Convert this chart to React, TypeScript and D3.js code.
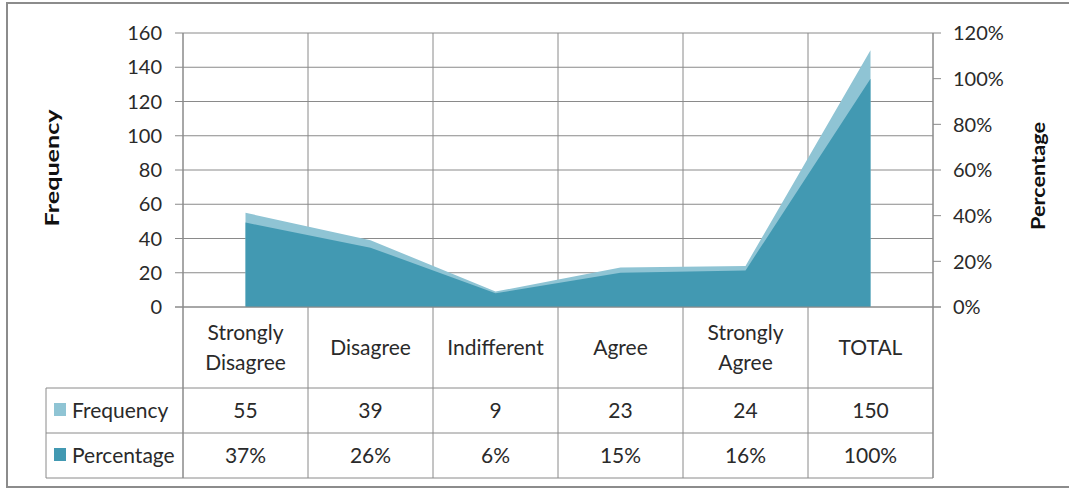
import React from "react";
import * as d3 from "d3";

const categories = ["Strongly Disagree", "Disagree", "Indifferent", "Agree", "Strongly Agree", "TOTAL"];
const categoryLines = [["Strongly", "Disagree"], ["Disagree"], ["Indifferent"], ["Agree"], ["Strongly", "Agree"], ["TOTAL"]];
const frequency = [55, 39, 9, 23, 24, 150];
const percentage = [37, 26, 6, 15, 16, 100];
const leftTicks = [0, 20, 40, 60, 80, 100, 120, 140, 160];
const rightTicks = [0, 20, 40, 60, 80, 100, 120];

const W = 1069, H = 489;
const plotL = 183, plotR = 933, plotT = 33, plotB = 307;
const row1B = 388, row2B = 433, row3B = 478, tableL = 46;
const FONT = "Lato, 'Open Sans', sans-serif";
const LIGHT = "#8fc4d4";
const DARK = "#4299b2";
const GRID = "#8a8a8a";
const TXT = "#2a2a2a";

export default function App() {
  const x = d3.scaleBand<string>().domain(categories).range([plotL, plotR]).padding(0);
  const cx = (c: string) => (x(c) as number) + x.bandwidth() / 2;
  const yL = d3.scaleLinear().domain([0, 160]).range([plotB, plotT]);
  const yR = d3.scaleLinear().domain([0, 120]).range([plotB, plotT]);

  const freqArea = d3.area<number>()
    .x((_, i) => cx(categories[i]))
    .y0(plotB)
    .y1((d) => yL(d));
  const pctArea = d3.area<number>()
    .x((_, i) => cx(categories[i]))
    .y0(plotB)
    .y1((d) => yR(d));

  const bounds = categories.map((c) => x(c) as number).concat([plotR]);

  return (
    <svg width={W} height={H} style={{ position: "absolute", left: 0, top: 0, background: "#fff" }} fontFamily={FONT}>
      <rect x={0} y={0} width={W} height={H} fill="#fff" />
      <rect x={7} y={3} width={W} height={484} fill="none" stroke="#8c8c8c" strokeWidth={2} />
      {leftTicks.map((t) => (
        <line key={"g" + t} x1={175} x2={plotR} y1={yL(t)} y2={yL(t)} stroke={GRID} strokeWidth={1} />
      ))}
      {bounds.map((b, i) => (
        <line key={"v" + i} x1={b} x2={b} y1={plotT} y2={row3B} stroke={GRID} strokeWidth={1} />
      ))}
      <path d={freqArea(frequency) || ""} fill={LIGHT} />
      <path d={pctArea(percentage) || ""} fill={DARK} />
      <line x1={plotL} x2={plotL} y1={plotT} y2={row3B} stroke={GRID} />
      <line x1={plotR} x2={plotR} y1={plotT} y2={row3B} stroke={GRID} />
      <line x1={175} x2={941} y1={plotB} y2={plotB} stroke={GRID} />
      {rightTicks.map((t) => (
        <line key={"r" + t} x1={plotR} x2={941} y1={yR(t)} y2={yR(t)} stroke={GRID} />
      ))}
      {leftTicks.map((t) => (
        <text key={"lt" + t} x={162} y={yL(t)} dy="0.36em" textAnchor="end" fontSize={20} fill={TXT}>{t}</text>
      ))}
      {rightTicks.map((t) => (
        <text key={"rt" + t} x={953} y={yR(t)} dy="0.36em" textAnchor="start" fontSize={20} fill={TXT}>{t + "%"}</text>
      ))}
      <text transform={`translate(59,168) rotate(-90)`} textAnchor="middle" fontSize={19} fontWeight="bold" fill="#111" textLength={117} lengthAdjust="spacingAndGlyphs">Frequency</text>
      <text transform={`translate(1045,176) rotate(-90)`} textAnchor="middle" fontSize={19} fontWeight="bold" fill="#111" textLength={108} lengthAdjust="spacingAndGlyphs">Percentage</text>
      <line x1={tableL} x2={plotR} y1={row1B} y2={row1B} stroke={GRID} />
      <line x1={tableL} x2={plotR} y1={row2B} y2={row2B} stroke={GRID} />
      <line x1={tableL} x2={plotR} y1={row3B} y2={row3B} stroke={GRID} />
      <line x1={tableL} x2={tableL} y1={row1B} y2={row3B} stroke={GRID} />
      {categories.map((c, i) => {
        const lines = categoryLines[i];
        const mid = (plotB + row1B) / 2;
        return lines.map((ln, j) => (
          <text key={c + j} x={cx(c)} y={mid + (j - (lines.length - 1) / 2) * 30} dy="0.36em" textAnchor="middle" fontSize={21} fill={TXT}>{ln}</text>
        ));
      })}
      {categories.map((c, i) => (
        <text key={"f" + c} x={cx(c)} y={(row1B + row2B) / 2} dy="0.36em" textAnchor="middle" fontSize={21} fill={TXT}>{frequency[i]}</text>
      ))}
      {categories.map((c, i) => (
        <text key={"p" + c} x={cx(c)} y={(row2B + row3B) / 2} dy="0.36em" textAnchor="middle" fontSize={21} fill={TXT}>{percentage[i] + "%"}</text>
      ))}
      <rect x={54} y={403} width={12} height={13} fill={LIGHT} />
      <text x={72} y={(row1B + row2B) / 2} dy="0.36em" fontSize={21} fill={TXT}>Frequency</text>
      <rect x={54} y={448} width={12} height={13} fill={DARK} />
      <text x={72} y={(row2B + row3B) / 2} dy="0.36em" fontSize={21} fill={TXT}>Percentage</text>
    </svg>
  );
}
